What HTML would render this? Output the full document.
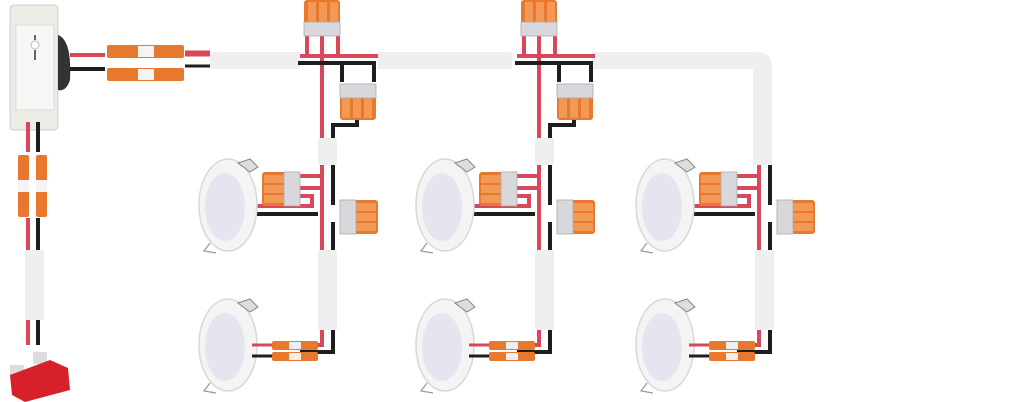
<!DOCTYPE html>
<html><head><style>
html,body{margin:0;padding:0;background:#fff;width:1024px;height:402px;overflow:hidden}
</style></head><body>
<svg width="1024" height="402" viewBox="0 0 1024 402" xmlns="http://www.w3.org/2000/svg">
<defs>
<g id="light">
  <ellipse cx="0" cy="0" rx="29" ry="46" fill="#f4f4f4" stroke="#d8d8d8" stroke-width="1.5"/>
  <ellipse cx="-3" cy="2" rx="20" ry="34" fill="#e6e4ee"/>
  <path d="M10,-42 L22,-46 L30,-38 L22,-33 Z" fill="#ddd" stroke="#888" stroke-width="1"/>
  <path d="M-18,38 L-24,46 L-12,48" fill="none" stroke="#999" stroke-width="1.2"/>
</g>
<g id="wago3v">
  <rect x="0" y="0" width="36" height="26" rx="3" fill="#e8782e"/>
  <rect x="4" y="2" width="8" height="24" fill="#f29a55"/>
  <rect x="15" y="2" width="8" height="24" fill="#f29a55"/>
  <rect x="26" y="2" width="8" height="24" fill="#f29a55"/>
  <rect x="0" y="22" width="36" height="14" fill="#d8d8dc" stroke="#aaa" stroke-width="0.8"/>
</g>
<g id="wago3h">
  <rect x="0" y="0" width="26" height="34" rx="3" fill="#e8782e"/>
  <rect x="2" y="3" width="24" height="8" fill="#f29a55"/>
  <rect x="2" y="13" width="24" height="8" fill="#f29a55"/>
  <rect x="2" y="23" width="24" height="8" fill="#f29a55"/>
  <rect x="22" y="0" width="16" height="34" fill="#d8d8dc" stroke="#aaa" stroke-width="0.8"/>
</g>
<g id="wago3hr">
  <rect x="12" y="0" width="26" height="34" rx="3" fill="#e8782e"/>
  <rect x="12" y="3" width="24" height="8" fill="#f29a55"/>
  <rect x="12" y="13" width="24" height="8" fill="#f29a55"/>
  <rect x="12" y="23" width="24" height="8" fill="#f29a55"/>
  <rect x="0" y="0" width="16" height="34" fill="#d8d8dc" stroke="#aaa" stroke-width="0.8"/>
</g>
<g id="inl">
  <rect x="0" y="0" width="46" height="9" rx="2" fill="#e8782e"/>
  <rect x="17" y="1" width="12" height="7" fill="#eee"/>
</g>
<g id="col">
  <!-- lower section wires -->
  <path d="M322,165 V250 M322,330 V345 H300" stroke="#d9485a" stroke-width="4" fill="none"/>
  <path d="M333,165 V205 M333,222 V250 M333,330 V352 H300" stroke="#1e1e1e" stroke-width="4" fill="none"/>
  <path d="M322,176 H300 M322,188 H300 M250,206 H312 V196 H300" stroke="#d9485a" stroke-width="4" fill="none"/>
  <path d="M252,214 H318" stroke="#1e1e1e" stroke-width="4" fill="none"/>
  <rect x="318" y="250" width="19" height="80" fill="#efefef"/>
  <use href="#wago3h" x="262" y="172"/>
  <use href="#wago3hr" x="340" y="200"/>
  <use href="#light" x="228" y="205"/>
  <use href="#light" x="228" y="345"/>
  <path d="M252,345 H272 M318,345 H300" stroke="#d9485a" stroke-width="3"/>
  <path d="M252,356 H272 M318,356 H300" stroke="#1e1e1e" stroke-width="3"/>
  <use href="#inl" x="272" y="341"/>
  <use href="#inl" x="272" y="352"/>
</g>
<g id="topj">
  <path d="M307,36 V56 H300 M307,56 H378 M338,36 V56 M322,36 V138" stroke="#d9485a" stroke-width="4" fill="none"/>
  <path d="M298,63 H374 V82 M342,63 V82 M357,120 V125 H333 V138" stroke="#1e1e1e" stroke-width="4" fill="none"/>
  <use href="#wago3v" x="304" y="0"/>
  <g transform="translate(376,120) rotate(180)"><use href="#wago3v" x="0" y="0"/></g>
  <rect x="318" y="138" width="19" height="27" fill="#efefef"/>
</g>
</defs>

<!-- main cable -->
<rect x="210" y="52" width="90" height="17" fill="#efefef"/>
<rect x="378" y="52" width="134" height="17" fill="#efefef"/>
<path d="M592,52 H757 Q772,52 772,67 V165 H753 V69 H592 Z" fill="#efefef"/>
<path d="M185,52 H210 M185,55 H210" stroke="#d9485a" stroke-width="3"/>
<path d="M185,66 H210" stroke="#1e1e1e" stroke-width="3"/>

<use href="#topj"/>
<use href="#topj" x="217"/>
<use href="#col"/>
<use href="#col" x="217"/>
<g transform="translate(437,0)"><use href="#col"/></g>

<!-- dimmer -->
<rect x="10" y="5" width="48" height="125" rx="4" fill="#ecebe6" stroke="#ccc"/>
<rect x="16" y="25" width="38" height="85" fill="#f7f7f5" stroke="#ddd"/>
<circle cx="35" cy="45" r="4" fill="#fff" stroke="#bbb"/>
<path d="M35,35 V40 M35,50 V60" stroke="#333" stroke-width="1.5"/>
<path d="M58,35 Q72,40 70,80 Q66,92 58,90" fill="#333"/>
<path d="M70,55 H105" stroke="#d9485a" stroke-width="4"/>
<path d="M70,69 H105" stroke="#1e1e1e" stroke-width="4"/>
<rect x="107" y="45" width="77" height="13" rx="2" fill="#e8782e"/>
<rect x="138" y="46" width="16" height="11" fill="#f4f4f4"/>
<rect x="107" y="68" width="77" height="13" rx="2" fill="#e8782e"/>
<rect x="138" y="69" width="16" height="11" fill="#f4f4f4"/>
<!-- left vertical -->
<path d="M28,122 V152 M28,218 V255 M28,320 V345" stroke="#d9485a" stroke-width="4"/>
<path d="M38,122 V152 M38,218 V255 M38,320 V345" stroke="#1e1e1e" stroke-width="4"/>
<rect x="18" y="155" width="11" height="62" rx="2" fill="#e8782e"/>
<rect x="36" y="155" width="11" height="62" rx="2" fill="#e8782e"/>
<rect x="18" y="180" width="11" height="12" fill="#f4f4f4"/>
<rect x="36" y="180" width="11" height="12" fill="#f4f4f4"/>
<rect x="25" y="250" width="19" height="70" fill="#efefef"/>
<!-- fuse -->
<rect x="10" y="365" width="14" height="12" fill="#ddd"/>
<rect x="33" y="352" width="14" height="12" fill="#ddd"/>
<path d="M10,375 L50,360 L68,368 L70,390 L25,402 L12,395 Z" fill="#d8202a"/>
</svg>
</body></html>
